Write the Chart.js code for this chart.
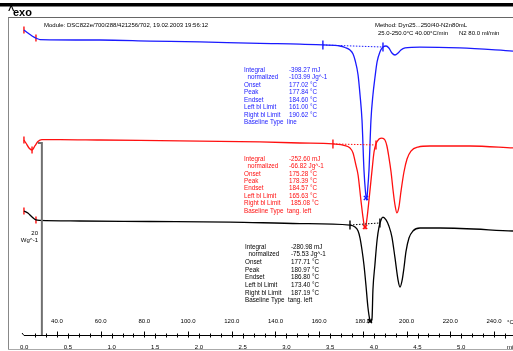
<!DOCTYPE html>
<html><head><meta charset="utf-8">
<script src="https://cdn.jsdelivr.net/npm/chart.js@4.4.1/dist/chart.umd.min.js"></script>
<style>html,body{margin:0;padding:0;background:#fff;overflow:hidden}canvas{display:block}</style>
</head><body><canvas id="c" width="513" height="351"></canvas>
<script>
// ---- data (temperature °C, signal W/g incl. display offset) ----
const blueT = [24.9,26.7,28.6,30.8,32.2,59.7,82.6,105.4,132.9,151.2,161.7,169.5,171.8,174.1,175.5,176.4,177.8,178.7,179.6,180.5,181.2,181.7,182.1,182.8,183.7,184.6,185.5,186.5,187.8,189.2,190.6,191.9,193.3,194.7,196.1,197.4,199.3,206.1,224.4,248.7];
const blueW = [34.21,33.89,33.57,33.30,33.19,33.14,33.03,32.93,32.77,32.71,32.61,32.50,32.34,32.07,31.65,31.00,29.40,27.26,24.59,19.24,16.89,16.03,16.89,19.24,24.59,27.26,29.08,30.79,31.86,32.39,32.50,32.29,31.75,31.54,31.75,32.07,32.29,32.39,32.29,31.96];
const redT = [24.9,25.8,27.2,28.6,29.9,31.3,33.1,41.4,59.7,105.4,132.9,151.2,166.3,171.8,174.1,175.5,176.8,177.8,179.1,180.1,181.0,181.9,182.8,184.2,185.1,186.0,187.4,188.7,190.1,191.0,191.9,192.9,193.8,194.7,195.6,196.5,197.4,198.8,200.2,202.0,205.2,210.7,229.0,248.7];
const redW = [22.45,22.13,21.60,21.38,21.81,22.29,22.50,22.50,22.45,22.34,22.24,22.13,22.03,21.86,21.60,21.06,19.78,18.71,16.03,14.11,12.94,14.11,16.03,19.24,21.17,22.02,22.55,22.66,22.45,21.81,20.63,19.03,17.10,15.50,14.65,15.29,16.89,19.03,20.42,21.27,21.70,21.81,21.81,21.60];
const blackT = [24.9,26.7,28.6,30.4,32.2,50.5,82.6,119.2,151.2,174.1,176.4,177.8,178.7,179.6,180.5,181.4,182.3,183.2,183.7,184.2,184.6,185.5,186.5,187.4,188.3,189.2,190.6,191.9,193.3,194.7,196.1,197.0,197.9,198.8,199.7,201.1,202.9,206.1,215.3,248.7];
const blackW = [14.86,14.65,14.22,13.90,13.85,13.79,13.74,13.68,13.52,13.36,13.15,12.72,11.97,10.69,9.09,6.95,4.60,3.21,2.99,3.42,6.41,9.09,11.76,13.15,13.90,14.20,13.90,13.26,12.08,9.84,7.48,6.73,7.38,8.77,10.48,11.97,12.72,13.04,13.04,12.72];

// evaluation markers [T, W]
const startMarks = [[24.9,34.21],[30.4,33.35],[24.9,22.45],[28.6,21.38],[24.9,14.86],[30.4,13.90]];
const blueLimits = [[161.7,32.61],[189.2,32.39]];
const redLimits = [[166.3,22.03],[186.0,21.92]];
const blackLimits = [[174.1,13.36],[187.8,13.58]];
const bluePeak = [[181.4,16.25]];
const redPeak = [[181.0,13.15]];
const blackPeak = [[183.2,3.10]];
const scaleBarT = [31.3,33.1,33.1];
const scaleBarW = [22.13,22.13,1.6];

// axis ticks
const tempLabels = [40,60,80,100,120,140,160,180,200,220,240];
const timeLabels = [0.0,0.5,1.0,1.5,2.0,2.5,3.0,3.5,4.0,4.5,5.0];
const startTemp = 25, rate = 40; // °C, °C/min

// result tables
const blueTable = [["Integral","-398.27 mJ"],["  normalized","-103.99 Jg^-1"],["Onset","177.02 °C"],["Peak","177.84 °C"],["Endset","184.60 °C"],["Left bl Limit","161.00 °C"],["Right bl Limit","190.62 °C"],["Baseline Type  line",""]];
const redTable = [["Integral","-252.60 mJ"],["  normalized","-66.82 Jg^-1"],["Onset","175.28 °C"],["Peak","178.39 °C"],["Endset","184.57 °C"],["Left bl Limit","165.63 °C"],["Right bl Limit"," 185.08 °C"],["Baseline Type  tang. left",""]];
const blackTable = [["Integral","-280.98 mJ"],["  normalized","-75.53 Jg^-1"],["Onset","177.71 °C"],["Peak","180.97 °C"],["Endset","186.80 °C"],["Left bl Limit","173.40 °C"],["Right bl Limit","187.19 °C"],["Baseline Type  tang. left",""]];

const pts = (a,b)=>a.map((t,i)=>({x:t,y:b[i]}));
const pp = a=>a.map(p=>({x:p[0],y:p[1]}));
const BLUE='#1a1aff', RED='#ff1010', BLACK='#000';

function curve(data,color){return {data,borderColor:color,borderWidth:1.3,pointRadius:0,showLine:true,cubicInterpolationMode:'monotone',fill:false};}
function dotted(data,color){return {data,borderColor:color,borderWidth:1,borderDash:[1.5,1.5],pointRadius:0,showLine:true,fill:false};}
function marks(data,color,style,rot,r){return {data,borderColor:color,backgroundColor:color,pointStyle:style,rotation:rot,pointRadius:r,pointBorderWidth:1.4,showLine:false};}

const chrome = {
  id:'chrome',
  beforeDatasetsDraw(chart){
    const c=chart.ctx, xs=chart.scales.x;
    c.save();
    c.fillStyle='#000'; c.fillRect(0,3,513,3.5);
    c.font='bold 11px "Liberation Sans", Arial, sans-serif'; c.textBaseline='alphabetic';
    c.fillText('^',8,14); c.fillText('exo',13,16);
    c.strokeStyle='#666'; c.lineWidth=1;
    c.beginPath(); c.moveTo(8,17.5); c.lineTo(513,17.5); c.stroke();
    c.strokeStyle='#888';
    c.beginPath(); c.moveTo(8.5,17.5); c.lineTo(8.5,350); c.stroke();
    c.strokeStyle='#aaa';
    c.beginPath(); c.moveTo(8,349.5); c.lineTo(513,349.5); c.stroke();
    const ay=335.5;
    c.strokeStyle='#000'; c.lineWidth=1;
    c.beginPath(); c.moveTo(22,333); c.lineTo(24,ay); c.lineTo(513,ay); c.stroke();
    c.beginPath();
    for(let t=30;t<=250;t+=5){const x=Math.round(xs.getPixelForValue(t))+0.5; const h=(t%20===0)?4:2; c.moveTo(x,ay); c.lineTo(x,ay-h);}
    for(let m=0.125;m<=5.6;m+=0.125){const x=Math.round(xs.getPixelForValue(startTemp+rate*m))+0.5; const h=(Math.abs(m*2-Math.round(m*2))<1e-6)?3:2; c.moveTo(x,ay); c.lineTo(x,ay+h);}
    c.stroke();
    c.fillStyle='#000'; c.font='6px "Liberation Sans", Arial, sans-serif'; c.textAlign='center'; c.textBaseline='middle';
    tempLabels.forEach(t=>c.fillText(t.toFixed(1),xs.getPixelForValue(t),321));
    timeLabels.forEach(m=>c.fillText(m.toFixed(1),xs.getPixelForValue(startTemp+rate*m),347));
    c.textAlign='left'; c.fillText('°C',507,322); c.fillText('min',507,347);
    c.textAlign='right'; c.fillText('20',38,233); c.fillText('Wg^-1',38,240);
    c.restore();
  },
  afterDraw(chart){
    const c=chart.ctx; c.save();
    c.font='6px "Liberation Sans", Arial, sans-serif'; c.textBaseline='middle'; c.textAlign='left'; c.fillStyle='#000';
    c.fillText('Module: DSC822e/700/288/421256/702, 19.02.2003 19:56:12',44,25);
    c.fillText('Method: Dyn25...250/40-N2n80mL',375,25);
    c.fillText('25.0-250.0°C 40.00°C/min',378,33);
    c.fillText('N2 80.0 ml/min',459,33);
    function table(rows,x0,x1,y0,dy,col){c.fillStyle=col; rows.forEach((r,i)=>{c.fillText(r[0],x0,y0+i*dy); if(r[1]) c.fillText(r[1],x1,y0+i*dy);});}
    c.font='6.3px "Liberation Sans", Arial, sans-serif';
    table(blueTable,244,289,70,7.5,BLUE);
    table(redTable,244,289,159,7.4,RED);
    table(blackTable,245,291,247,7.65,BLACK);
    c.restore();
  }
};

new Chart(document.getElementById('c'),{
  type:'scatter',
  data:{datasets:[
    {data:pts(scaleBarT,scaleBarW),borderColor:'#707070',borderWidth:2,pointRadius:0,showLine:true,fill:false},
    dotted(pp(blueLimits),BLUE), dotted(pp(redLimits),RED), dotted(pp(blackLimits),BLACK),
    curve(pts(blueT,blueW),BLUE), curve(pts(redT,redW),RED), curve(pts(blackT,blackW),BLACK),
    marks(pp(startMarks),RED,'line',90,3.5),
    marks(pp(blueLimits),BLUE,'line',90,4.5), marks(pp(redLimits),RED,'line',90,4.5), marks(pp(blackLimits),BLACK,'line',90,4.5),
    marks(pp(bluePeak),BLUE,'crossRot',0,3), marks(pp(redPeak),RED,'crossRot',0,3), marks(pp(blackPeak),BLACK,'crossRot',0,3)
  ]},
  options:{
    responsive:false, animation:false, devicePixelRatio:1,
    layout:{autoPadding:false,padding:{left:8,right:0,top:17,bottom:1}},
    plugins:{legend:{display:false},tooltip:{enabled:false}},
    scales:{
      x:{type:'linear',min:17.6,max:248.7,display:false},
      y:{type:'linear',min:0,max:35.6,display:false}
    }
  },
  plugins:[chrome]
});
</script></body></html>
